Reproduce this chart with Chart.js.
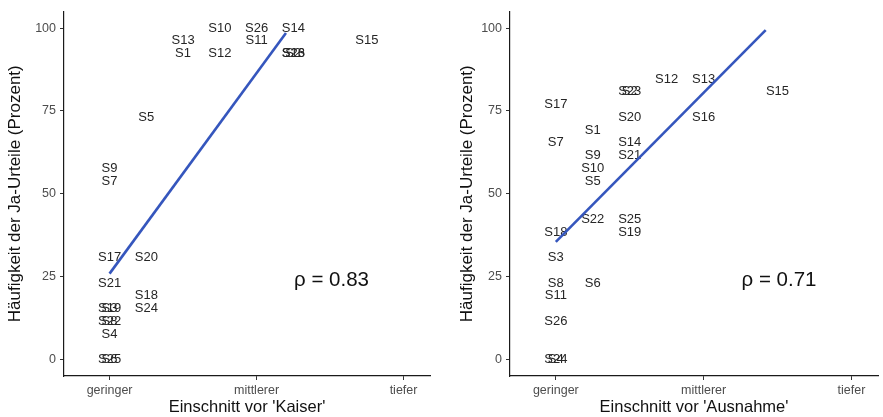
<!DOCTYPE html>
<html>
<head>
<meta charset="utf-8">
<script src="https://cdn.jsdelivr.net/npm/chart.js@4.4.1/dist/chart.umd.min.js"></script>
<style>
  html, body { margin: 0; padding: 0; background: #fff; }
  #wrap { position: relative; width: 883px; height: 417px; overflow: hidden; }
  canvas { position: absolute; top: 0; }
</style>
</head>
<body>
<div id="wrap">
  <canvas id="kaiser" width="441" height="417" style="left:0px"></canvas>
  <canvas id="ausnahme" width="442" height="417" style="left:441px"></canvas>
</div>
<script>
// Versuchspersonen
const subjects = ['S1','S2','S3','S4','S5','S6','S7','S8','S9','S10','S11','S12','S13',
                  'S14','S15','S16','S17','S18','S19','S20','S21','S22','S23','S24','S25','S26'];

// Kategorien der x-Achse (Einschnitt) und Ticks der y-Achse
const cutCategories = ['geringer', 'mittlerer', 'tiefer'];
const percentTicks = [0, 25, 50, 75, 100];

// Einschnitt vor 'Kaiser': mittlere Einschnittsbewertung und Ja-Anteil je Person
const kaiserCut = [1.5, 2.25, 1, 1, 1.25, 1, 1, 1, 1, 1.75, 2, 1.75, 1.5,
                   2.25, 2.75, 2.25, 1, 1.25, 1, 1.25, 1, 1, 2.25, 1.25, 1, 2];
const kaiserYes = [92.31, 92.31, 15.38, 7.69, 73.08, 0, 53.85, 11.54, 57.69, 100, 96.15, 92.31, 96.15,
                   100, 96.15, 92.31, 30.77, 19.23, 15.38, 30.77, 23.08, 11.54, 92.31, 15.38, 0, 100];

// Einschnitt vor 'Ausnahme'
const ausnahmeCut = [1.25, 1.5, 1, 1, 1.25, 1.25, 1, 1, 1.25, 1.25, 1, 1.75, 2,
                     1.5, 2.5, 2, 1, 1, 1.5, 1.5, 1.5, 1.25, 1.5, 1, 1.5, 1];
const ausnahmeYes = [69.23, 80.77, 30.77, 0, 53.85, 23.08, 65.38, 23.08, 61.54, 57.69, 19.23, 84.62, 84.62,
                     65.38, 80.77, 73.08, 76.92, 38.46, 38.46, 73.08, 61.54, 42.31, 80.77, 0, 42.31, 11.54];

// Regressionsgeraden (Endpunkte)
const kaiserFitCut = [1, 2.2];
const kaiserFitYes = [25.9, 98.5];
const ausnahmeFitCut = [1, 2.42];
const ausnahmeFitYes = [35.5, 99.4];

// Rangkorrelationen
const kaiserRho = 0.83;
const ausnahmeRho = 0.71;

const FONT = '"Liberation Sans", Arial, Helvetica, sans-serif';

// Personenkürzel als Textmarken an den Datenpunkten, dazu der Korrelationswert
const textMarks = {
  id: 'textMarks',
  beforeDatasetsDraw(chart, args, opts) {
    const ctx = chart.ctx;
    const meta = chart.getDatasetMeta(0);
    ctx.save();
    ctx.font = '13px ' + FONT;
    ctx.fillStyle = '#262626';
    ctx.textAlign = 'center';
    ctx.textBaseline = 'middle';
    meta.data.forEach((el, i) => {
      ctx.fillText(subjects[i], el.x, el.y);
    });
    const xs = chart.scales.x, ys = chart.scales.y;
    ctx.font = '20.5px ' + FONT;
    ctx.fillStyle = '#111';
    ctx.fillText('\u03C1 = ' + opts.rho.toFixed(2), xs.getPixelForValue(opts.at[0]), ys.getPixelForValue(opts.at[1]));
    ctx.restore();
  }
};

function makePanel(id, cut, yes, fitCut, fitYes, rho, xTitle, layout) {
  const points = cut.map((x, i) => ({ x: x, y: yes[i] }));
  const fit = fitCut.map((x, i) => ({ x: x, y: fitYes[i] }));
  return new Chart(document.getElementById(id), {
    type: 'scatter',
    data: {
      datasets: [
        { data: points, pointRadius: 0, pointHoverRadius: 0, showLine: false },
        { data: fit, showLine: true, borderColor: '#3556bd', borderWidth: 2.6,
          pointRadius: 0, pointHoverRadius: 0, fill: false, tension: 0 }
      ]
    },
    options: {
      responsive: false,
      animation: false,
      events: [],
      layout: { padding: { top: 10, right: layout.padRight, bottom: 0, left: 0 } },
      plugins: {
        legend: { display: false },
        tooltip: { enabled: false },
        textMarks: { rho: rho, at: [2.51, 24] }
      },
      scales: {
        x: {
          type: 'linear',
          min: 0.69,
          max: 3.18,
          afterBuildTicks: (s) => { s.ticks = [1, 2, 3].map(v => ({ value: v })); },
          afterFit: (s) => { s.height = 41; },
          ticks: {
            autoSkip: false, maxRotation: 0, padding: 3,
            color: '#4d4d4d', font: { family: FONT, size: 12.5 },
            callback: (v) => cutCategories[v - 1]
          },
          grid: { display: true, drawOnChartArea: false, drawTicks: true, tickLength: 4, tickColor: '#333' },
          border: { display: true, color: '#1a1a1a', width: 1.2 },
          title: { display: true, text: xTitle, color: '#111', font: { family: FONT, size: 16.5 },
                   padding: { top: 0, bottom: 0 } }
        },
        y: {
          type: 'linear',
          min: -5,
          max: 105,
          afterBuildTicks: (s) => { s.ticks = percentTicks.map(v => ({ value: v })); },
          afterFit: (s) => { s.width = layout.yWidth; },
          ticks: { padding: 4, color: '#4d4d4d', font: { family: FONT, size: 12.5 } },
          grid: { display: true, drawOnChartArea: false, drawTicks: true, tickLength: 4, tickColor: '#333' },
          border: { display: true, color: '#1a1a1a', width: 1.2 },
          title: { display: true, text: 'Häufigkeit der Ja-Urteile (Prozent)', color: '#111',
                   font: { family: FONT, size: 17 }, padding: { top: layout.titlePad, bottom: 0 } }
        }
      }
    },
    plugins: [textMarks]
  });
}

makePanel('kaiser', kaiserCut, kaiserYes, kaiserFitCut, kaiserFitYes, kaiserRho,
          "Einschnitt vor 'Kaiser'", { yWidth: 64, padRight: 11, titlePad: 5 });
makePanel('ausnahme', ausnahmeCut, ausnahmeYes, ausnahmeFitCut, ausnahmeFitYes, ausnahmeRho,
          "Einschnitt vor 'Ausnahme'", { yWidth: 69, padRight: 5, titlePad: 16 });
</script>
</body>
</html>
